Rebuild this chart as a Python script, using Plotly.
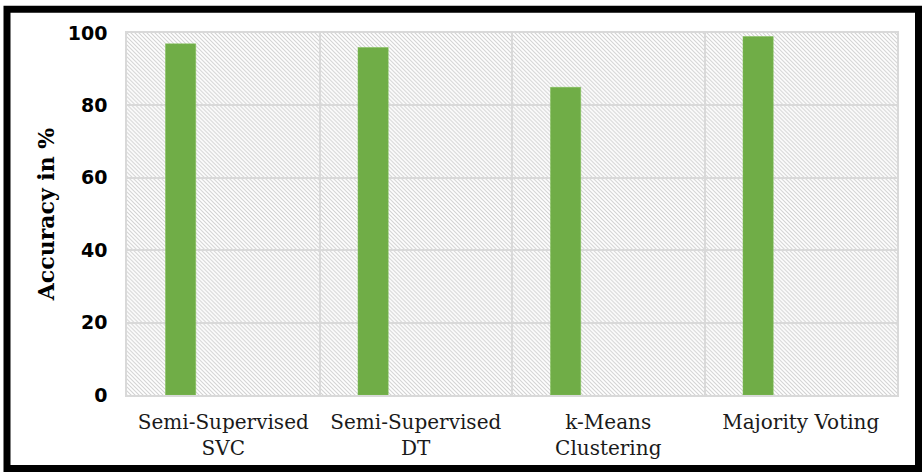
import base64
import plotly.graph_objects as go

# Model accuracy comparison
categories = [
    "Semi-Supervised<br>SVC",
    "Semi-Supervised<br>DT",
    "k-Means<br>Clustering",
    "Majority Voting",
]
accuracy = [97, 96, 85, 99]
y_ticks = [0, 20, 40, 60, 80, 100]

W, H = 924, 472
M_L, M_R, M_T, M_B = 127, 27, 33, 75
PW, PH = W - M_L - M_R, H - M_T - M_B

GRID = "#d9d9d9"
GREEN = "#70ad47"

# diagonal hatch texture for the plot background (4px tile, "\" strokes)
hatch_svg = (
    f'<svg xmlns="http://www.w3.org/2000/svg" width="{PW}" height="{PH}" '
    f'viewBox="0 0 {PW} {PH}" preserveAspectRatio="none">'
    '<defs><pattern id="h" width="4" height="4" patternUnits="userSpaceOnUse">'
    '<path d="M-1,-1 L5,5 M3,-1 L5,1 M-1,3 L1,5" stroke="#d2d2d2" stroke-width="1.1"/>'
    '</pattern></defs>'
    '<rect width="100%" height="100%" fill="#ffffff"/>'
    '<rect width="100%" height="100%" fill="url(#h)"/></svg>'
)
hatch_uri = "data:image/svg+xml;base64," + base64.b64encode(hatch_svg.encode()).decode()

fig = go.Figure(
    go.Bar(
        x=categories,
        y=accuracy,
        width=0.157,
        offset=-0.3,
        marker=dict(color=GREEN, line=dict(color="#7fbf55", width=0.5)),
    )
)


def px_x(px):
    return (px - M_L) / PW


def px_y(py):
    return (M_T + PH - py) / PH


fig.update_layout(
    width=W,
    height=H,
    margin=dict(l=M_L, r=M_R, t=M_T, b=M_B),
    paper_bgcolor="white",
    plot_bgcolor="rgba(0,0,0,0)",
    showlegend=False,
    images=[
        dict(
            source=hatch_uri,
            xref="paper", yref="paper",
            x=0, y=1, sizex=1, sizey=1,
            xanchor="left", yanchor="top",
            sizing="stretch", layer="below",
        )
    ],
    shapes=[
        dict(
            type="rect", xref="paper", yref="paper",
            x0=px_x(7), x1=px_x(918.5), y0=px_y(471), y1=px_y(9),
            line=dict(color="black", width=7), fillcolor="rgba(0,0,0,0)",
            layer="above",
        )
    ],
    xaxis=dict(
        type="category",
        range=[-0.5, 3.5],
        tickson="boundaries",
        showgrid=True,
        gridcolor=GRID,
        gridwidth=1.5,
        ticks="",
        showline=True,
        linecolor=GRID,
        linewidth=1.5,
        mirror=True,
        ticklabelstandoff=8,
        tickfont=dict(family="DejaVu Serif", size=20, color="#1a1a1a"),
    ),
    yaxis=dict(
        range=[0, 100],
        tickvals=y_ticks,
        showgrid=True,
        gridcolor=GRID,
        gridwidth=1.5,
        zeroline=False,
        ticks="",
        showline=True,
        linecolor=GRID,
        linewidth=1.5,
        mirror=True,
        ticklabelstandoff=14,
        tickfont=dict(family="DejaVu Sans", size=19, color="black", weight="bold"),
        title=dict(
            text="Accuracy in %",
            font=dict(family="DejaVu Serif", size=22, color="black", weight="bold"),
            standoff=7,
        ),
    ),
)

fig.write_html("out.html")
